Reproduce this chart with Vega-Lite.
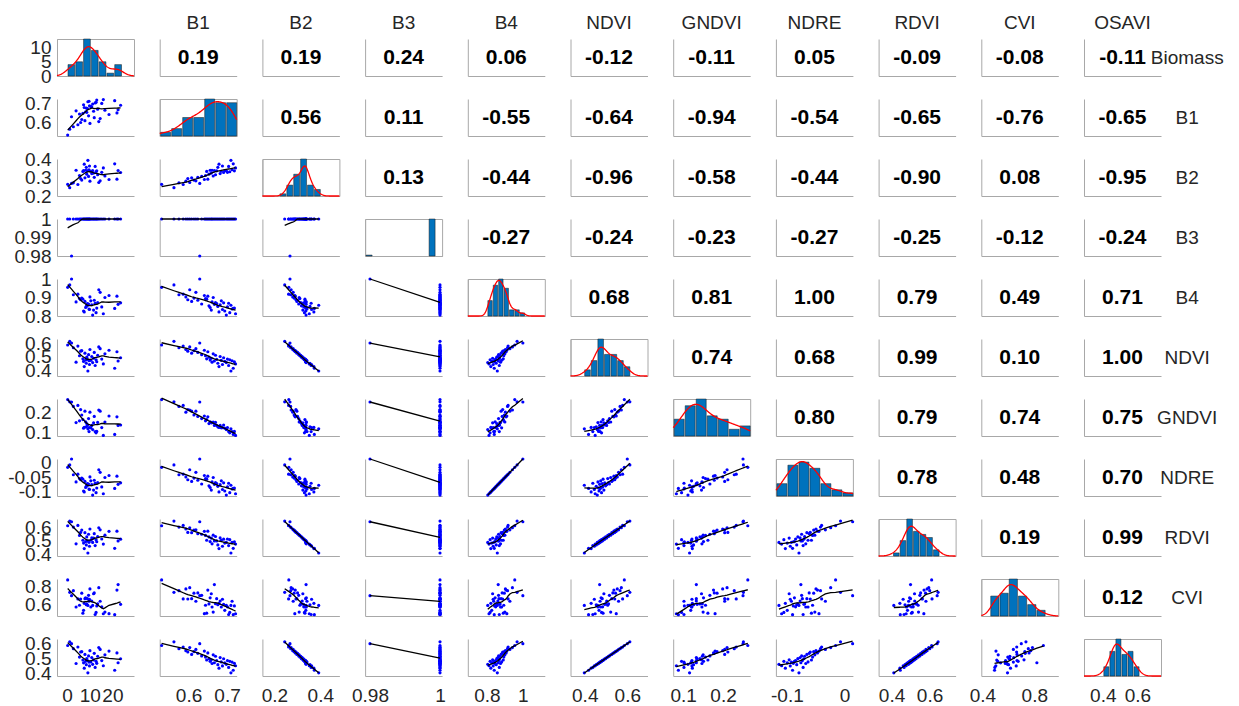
{
"$schema": "https://vega.github.io/schema/vega-lite/v6.json",
"padding": {"left": 7, "top": 14, "right": 5, "bottom": 5},
"background": "white",
"datasets": {"obs": [
{"Biomass":9.2,"B1":0.71,"B2":0.393,"B3":1,"B4":0.858,"NDVI":0.398,"GNDVI":0.116,"NDRE":-0.079,"RDVI":0.412,"CVI":0.594,"OSAVI":0.403},
{"Biomass":21,"B1":0.716,"B2":0.374,"B3":1,"B4":0.841,"NDVI":0.418,"GNDVI":0.088,"NDRE":-0.0901,"RDVI":0.446,"CVI":0.494,"OSAVI":0.42},
{"Biomass":7.6,"B1":0.679,"B2":0.372,"B3":1,"B4":0.822,"NDVI":0.43,"GNDVI":0.123,"NDRE":-0.1026,"RDVI":0.444,"CVI":0.617,"OSAVI":0.434},
{"Biomass":12.4,"B1":0.704,"B2":0.36,"B3":1,"B4":0.869,"NDVI":0.438,"GNDVI":0.102,"NDRE":-0.0718,"RDVI":0.466,"CVI":0.496,"OSAVI":0.439},
{"Biomass":9.9,"B1":0.688,"B2":0.362,"B3":1,"B4":0.835,"NDVI":0.445,"GNDVI":0.122,"NDRE":-0.0941,"RDVI":0.461,"CVI":0.661,"OSAVI":0.449},
{"Biomass":16,"B1":0.722,"B2":0.352,"B3":1,"B4":0.812,"NDVI":0.449,"GNDVI":0.083,"NDRE":-0.1091,"RDVI":0.477,"CVI":0.504,"OSAVI":0.45},
{"Biomass":8.5,"B1":0.676,"B2":0.355,"B3":1,"B4":0.852,"NDVI":0.454,"GNDVI":0.126,"NDRE":-0.0829,"RDVI":0.471,"CVI":0.602,"OSAVI":0.457},
{"Biomass":11.3,"B1":0.698,"B2":0.338,"B3":1,"B4":0.805,"NDVI":0.459,"GNDVI":0.112,"NDRE":-0.1137,"RDVI":0.489,"CVI":0.594,"OSAVI":0.459},
{"Biomass":4,"B1":0.661,"B2":0.339,"B3":1,"B4":0.876,"NDVI":0.462,"GNDVI":0.147,"NDRE":-0.0672,"RDVI":0.479,"CVI":0.577,"OSAVI":0.465},
{"Biomass":13.1,"B1":0.719,"B2":0.336,"B3":1,"B4":0.843,"NDVI":0.465,"GNDVI":0.103,"NDRE":-0.0888,"RDVI":0.494,"CVI":0.589,"OSAVI":0.466},
{"Biomass":7.3,"B1":0.694,"B2":0.337,"B3":1,"B4":0.827,"NDVI":0.467,"GNDVI":0.119,"NDRE":-0.0993,"RDVI":0.484,"CVI":0.541,"OSAVI":0.469},
{"Biomass":22.5,"B1":0.667,"B2":0.338,"B3":1,"B4":0.863,"NDVI":0.47,"GNDVI":0.133,"NDRE":-0.0757,"RDVI":0.5,"CVI":0.82,"OSAVI":0.47},
{"Biomass":9.7,"B1":0.713,"B2":0.342,"B3":1,"B4":0.838,"NDVI":0.472,"GNDVI":0.102,"NDRE":-0.0921,"RDVI":0.49,"CVI":0.639,"OSAVI":0.474},
{"Biomass":10.5,"B1":0.685,"B2":0.334,"B3":1,"B4":0.882,"NDVI":0.475,"GNDVI":0.121,"NDRE":-0.0633,"RDVI":0.505,"CVI":0.577,"OSAVI":0.475},
{"Biomass":8.2,"B1":0.656,"B2":0.339,"B3":1,"B4":0.846,"NDVI":0.477,"GNDVI":0.151,"NDRE":-0.0869,"RDVI":0.495,"CVI":0.676,"OSAVI":0.479},
{"Biomass":12.8,"B1":0.707,"B2":0.331,"B3":1,"B4":0.818,"NDVI":0.479,"GNDVI":0.096,"NDRE":-0.1052,"RDVI":0.509,"CVI":0.519,"OSAVI":0.479},
{"Biomass":9,"B1":0.673,"B2":0.336,"B3":1,"B4":0.867,"NDVI":0.482,"GNDVI":0.133,"NDRE":-0.0731,"RDVI":0.5,"CVI":0.667,"OSAVI":0.484},
{"Biomass":15.3,"B1":0.701,"B2":0.328,"B3":1,"B4":0.849,"NDVI":0.484,"GNDVI":0.122,"NDRE":-0.0849,"RDVI":0.514,"CVI":0.579,"OSAVI":0.484},
{"Biomass":7,"B1":0.647,"B2":0.333,"B3":1,"B4":0.891,"NDVI":0.486,"GNDVI":0.162,"NDRE":-0.0574,"RDVI":0.505,"CVI":0.511,"OSAVI":0.488},
{"Biomass":11.7,"B1":0.659,"B2":0.324,"B3":1,"B4":0.832,"NDVI":0.49,"GNDVI":0.146,"NDRE":-0.096,"RDVI":0.521,"CVI":0.721,"OSAVI":0.489},
{"Biomass":23.6,"B1":0.691,"B2":0.327,"B3":1,"B4":0.871,"NDVI":0.494,"GNDVI":0.135,"NDRE":-0.0705,"RDVI":0.513,"CVI":0.606,"OSAVI":0.496},
{"Biomass":8.7,"B1":0.653,"B2":0.318,"B3":1,"B4":0.855,"NDVI":0.498,"GNDVI":0.142,"NDRE":-0.081,"RDVI":0.529,"CVI":0.611,"OSAVI":0.497},
{"Biomass":10.9,"B1":0.682,"B2":0.321,"B3":1,"B4":0.861,"NDVI":0.503,"GNDVI":0.133,"NDRE":-0.077,"RDVI":0.522,"CVI":0.642,"OSAVI":0.504},
{"Biomass":5.5,"B1":0.644,"B2":0.311,"B3":1,"B4":0.894,"NDVI":0.508,"GNDVI":0.156,"NDRE":-0.0554,"RDVI":0.54,"CVI":0.596,"OSAVI":0.507},
{"Biomass":13.5,"B1":0.67,"B2":0.315,"B3":1,"B4":0.873,"NDVI":0.512,"GNDVI":0.148,"NDRE":-0.0692,"RDVI":0.532,"CVI":0.612,"OSAVI":0.513},
{"Biomass":9.5,"B1":0.634,"B2":0.306,"B3":1,"B4":0.865,"NDVI":0.516,"GNDVI":0.167,"NDRE":-0.0744,"RDVI":0.549,"CVI":0.703,"OSAVI":0.515},
{"Biomass":16.7,"B1":0.664,"B2":0.308,"B3":1,"B4":0.9,"NDVI":0.522,"GNDVI":0.15,"NDRE":-0.0515,"RDVI":0.542,"CVI":0.522,"OSAVI":0.522},
{"Biomass":7.9,"B1":0.608,"B2":0.298,"B3":1,"B4":0.879,"NDVI":0.527,"GNDVI":0.204,"NDRE":-0.0653,"RDVI":0.56,"CVI":0.667,"OSAVI":0.525},
{"Biomass":12,"B1":0.624,"B2":0.301,"B3":1,"B4":0.885,"NDVI":0.532,"GNDVI":0.178,"NDRE":-0.0613,"RDVI":0.553,"CVI":0.73,"OSAVI":0.532},
{"Biomass":22,"B1":0.65,"B2":0.291,"B3":1,"B4":0.907,"NDVI":0.537,"GNDVI":0.176,"NDRE":-0.0469,"RDVI":0.571,"CVI":0.76,"OSAVI":0.535},
{"Biomass":6,"B1":0.598,"B2":0.294,"B3":1,"B4":0.888,"NDVI":0.541,"GNDVI":0.212,"NDRE":-0.0594,"RDVI":0.562,"CVI":0.664,"OSAVI":0.541},
{"Biomass":6.5,"B1":0.614,"B2":0.286,"B3":1,"B4":0.897,"NDVI":0.545,"GNDVI":0.185,"NDRE":-0.0535,"RDVI":0.579,"CVI":0.727,"OSAVI":0.543},
{"Biomass":18.5,"B1":0.641,"B2":0.289,"B3":1,"B4":0.911,"NDVI":0.548,"GNDVI":0.18,"NDRE":-0.0443,"RDVI":0.57,"CVI":0.505,"OSAVI":0.547},
{"Biomass":10.1,"B1":0.593,"B2":0.28,"B3":1,"B4":0.903,"NDVI":0.553,"GNDVI":0.199,"NDRE":-0.0495,"RDVI":0.587,"CVI":0.773,"OSAVI":0.55},
{"Biomass":14.6,"B1":0.619,"B2":0.282,"B3":1,"B4":0.928,"NDVI":0.559,"GNDVI":0.204,"NDRE":-0.0332,"RDVI":0.581,"CVI":0.639,"OSAVI":0.558},
{"Biomass":2.8,"B1":0.575,"B2":0.271,"B3":1,"B4":0.915,"NDVI":0.566,"GNDVI":0.228,"NDRE":-0.0417,"RDVI":0.601,"CVI":0.754,"OSAVI":0.563},
{"Biomass":14,"B1":0.603,"B2":0.273,"B3":1,"B4":0.942,"NDVI":0.572,"GNDVI":0.21,"NDRE":-0.024,"RDVI":0.596,"CVI":0.786,"OSAVI":0.57},
{"Biomass":4.8,"B1":0.586,"B2":0.262,"B3":1,"B4":0.918,"NDVI":0.578,"GNDVI":0.233,"NDRE":-0.0397,"RDVI":0.613,"CVI":0.665,"OSAVI":0.574},
{"Biomass":0.3,"B1":0.53,"B2":0.263,"B3":1,"B4":0.955,"NDVI":0.586,"GNDVI":0.262,"NDRE":-0.0155,"RDVI":0.611,"CVI":0.87,"OSAVI":0.584},
{"Biomass":2,"B1":0.629,"B2":0.268,"B3":0.98,"B4":1,"NDVI":0.6,"GNDVI":0.25,"NDRE":0.014,"RDVI":0.64,"CVI":0.7,"OSAVI":0.596},
{"Biomass":1.2,"B1":0.562,"B2":0.245,"B3":1,"B4":0.968,"NDVI":0.612,"GNDVI":0.251,"NDRE":-0.007,"RDVI":0.645,"CVI":0.736,"OSAVI":0.608}
]},
"data": {"name": "obs"},
"columns": 12,
"spacing": {"row": 23, "column": 25.7},
"bounds": "flush",
"concat": [
{"view":{"stroke":"#a8a8a8"},"layer":[{"mark":"bar","encoding":{"x":{"field":"Biomass","type":"quantitative","title":null,"bin":{"extent":[0,24],"step":3.428571,"nice":false},"scale":{"domain":[-4.4,29.5]}},"y":{"aggregate":"count","type":"quantitative","title":null,"scale":{"domain":[0,13]},"axis":{"labels":true,"values":[0,5,10],"format":"~r"}}}},{"transform":[{"density":"Biomass","bandwidth":2.5,"extent":[-4.4,29.5]}],"mark":{"type":"line","color":"#ff0000"},"encoding":{"x":{"field":"value","type":"quantitative","scale":{"domain":[-4.4,29.5]},"axis":null},"y":{"field":"density","type":"quantitative","scale":{"domain":[0,0.0925]},"axis":null}}}],"resolve":{"scale":{"x":"independent","y":"independent"}}},
{"title":"B1","data":{"values":[{"r":"0.19"}]},"mark":"text","encoding":{"x":{"datum":0.5,"type":"quantitative","scale":{"domain":[0,1]}},"y":{"datum":0.5,"type":"quantitative","scale":{"domain":[0,1]}},"text":{"field":"r"}}},
{"title":"B2","data":{"values":[{"r":"0.19"}]},"mark":"text","encoding":{"x":{"datum":0.5,"type":"quantitative","scale":{"domain":[0,1]}},"y":{"datum":0.5,"type":"quantitative","scale":{"domain":[0,1]}},"text":{"field":"r"}}},
{"title":"B3","data":{"values":[{"r":"0.24"}]},"mark":"text","encoding":{"x":{"datum":0.5,"type":"quantitative","scale":{"domain":[0,1]}},"y":{"datum":0.5,"type":"quantitative","scale":{"domain":[0,1]}},"text":{"field":"r"}}},
{"title":"B4","data":{"values":[{"r":"0.06"}]},"mark":"text","encoding":{"x":{"datum":0.5,"type":"quantitative","scale":{"domain":[0,1]}},"y":{"datum":0.5,"type":"quantitative","scale":{"domain":[0,1]}},"text":{"field":"r"}}},
{"title":"NDVI","data":{"values":[{"r":"-0.12"}]},"mark":"text","encoding":{"x":{"datum":0.5,"type":"quantitative","scale":{"domain":[0,1]}},"y":{"datum":0.5,"type":"quantitative","scale":{"domain":[0,1]}},"text":{"field":"r"}}},
{"title":"GNDVI","data":{"values":[{"r":"-0.11"}]},"mark":"text","encoding":{"x":{"datum":0.5,"type":"quantitative","scale":{"domain":[0,1]}},"y":{"datum":0.5,"type":"quantitative","scale":{"domain":[0,1]}},"text":{"field":"r"}}},
{"title":"NDRE","data":{"values":[{"r":"0.05"}]},"mark":"text","encoding":{"x":{"datum":0.5,"type":"quantitative","scale":{"domain":[0,1]}},"y":{"datum":0.5,"type":"quantitative","scale":{"domain":[0,1]}},"text":{"field":"r"}}},
{"title":"RDVI","data":{"values":[{"r":"-0.09"}]},"mark":"text","encoding":{"x":{"datum":0.5,"type":"quantitative","scale":{"domain":[0,1]}},"y":{"datum":0.5,"type":"quantitative","scale":{"domain":[0,1]}},"text":{"field":"r"}}},
{"title":"CVI","data":{"values":[{"r":"-0.08"}]},"mark":"text","encoding":{"x":{"datum":0.5,"type":"quantitative","scale":{"domain":[0,1]}},"y":{"datum":0.5,"type":"quantitative","scale":{"domain":[0,1]}},"text":{"field":"r"}}},
{"title":"OSAVI","data":{"values":[{"r":"-0.11"}]},"mark":"text","encoding":{"x":{"datum":0.5,"type":"quantitative","scale":{"domain":[0,1]}},"y":{"datum":0.5,"type":"quantitative","scale":{"domain":[0,1]}},"text":{"field":"r"}}},
{"width":1,"height":37,"data":{"values":[{"t":"Biomass"}]},"mark":{"type":"text","fontWeight":"normal","fontSize":19,"color":"#262626"},"encoding":{"text":{"field":"t"}}},

{"layer":[{"mark":"point"},{"transform":[{"loess":"B1","on":"Biomass","bandwidth":0.6}],"mark":"line"}],"encoding":{"x":{"field":"Biomass","type":"quantitative","title":null,"scale":{"domain":[-4.4,29.5]}},"y":{"field":"B1","type":"quantitative","title":null,"scale":{"domain":[0.525,0.725]},"axis":{"labels":true,"values":[0.6,0.7],"format":"~r"}}}},
{"view":{"stroke":"#a8a8a8"},"layer":[{"mark":"bar","encoding":{"x":{"field":"B1","type":"quantitative","title":null,"bin":{"extent":[0.525,0.725],"step":0.0285714,"nice":false},"scale":{"domain":[0.525,0.725]}},"y":{"aggregate":"count","type":"quantitative","title":null,"scale":{"domain":[0,10]}}}},{"transform":[{"density":"B1","bandwidth":0.02,"extent":[0.525,0.725]}],"mark":{"type":"line","color":"#ff0000"},"encoding":{"x":{"field":"value","type":"quantitative","scale":{"domain":[0.525,0.725]},"axis":null},"y":{"field":"density","type":"quantitative","scale":{"domain":[0,8.54]},"axis":null}}}],"resolve":{"scale":{"x":"independent","y":"independent"}}},
{"data":{"values":[{"r":"0.56"}]},"mark":"text","encoding":{"x":{"datum":0.5,"type":"quantitative","scale":{"domain":[0,1]}},"y":{"datum":0.5,"type":"quantitative","scale":{"domain":[0,1]}},"text":{"field":"r"}}},
{"data":{"values":[{"r":"0.11"}]},"mark":"text","encoding":{"x":{"datum":0.5,"type":"quantitative","scale":{"domain":[0,1]}},"y":{"datum":0.5,"type":"quantitative","scale":{"domain":[0,1]}},"text":{"field":"r"}}},
{"data":{"values":[{"r":"-0.55"}]},"mark":"text","encoding":{"x":{"datum":0.5,"type":"quantitative","scale":{"domain":[0,1]}},"y":{"datum":0.5,"type":"quantitative","scale":{"domain":[0,1]}},"text":{"field":"r"}}},
{"data":{"values":[{"r":"-0.64"}]},"mark":"text","encoding":{"x":{"datum":0.5,"type":"quantitative","scale":{"domain":[0,1]}},"y":{"datum":0.5,"type":"quantitative","scale":{"domain":[0,1]}},"text":{"field":"r"}}},
{"data":{"values":[{"r":"-0.94"}]},"mark":"text","encoding":{"x":{"datum":0.5,"type":"quantitative","scale":{"domain":[0,1]}},"y":{"datum":0.5,"type":"quantitative","scale":{"domain":[0,1]}},"text":{"field":"r"}}},
{"data":{"values":[{"r":"-0.54"}]},"mark":"text","encoding":{"x":{"datum":0.5,"type":"quantitative","scale":{"domain":[0,1]}},"y":{"datum":0.5,"type":"quantitative","scale":{"domain":[0,1]}},"text":{"field":"r"}}},
{"data":{"values":[{"r":"-0.65"}]},"mark":"text","encoding":{"x":{"datum":0.5,"type":"quantitative","scale":{"domain":[0,1]}},"y":{"datum":0.5,"type":"quantitative","scale":{"domain":[0,1]}},"text":{"field":"r"}}},
{"data":{"values":[{"r":"-0.76"}]},"mark":"text","encoding":{"x":{"datum":0.5,"type":"quantitative","scale":{"domain":[0,1]}},"y":{"datum":0.5,"type":"quantitative","scale":{"domain":[0,1]}},"text":{"field":"r"}}},
{"data":{"values":[{"r":"-0.65"}]},"mark":"text","encoding":{"x":{"datum":0.5,"type":"quantitative","scale":{"domain":[0,1]}},"y":{"datum":0.5,"type":"quantitative","scale":{"domain":[0,1]}},"text":{"field":"r"}}},
{"width":1,"height":37,"data":{"values":[{"t":"B1"}]},"mark":{"type":"text","fontWeight":"normal","fontSize":19,"color":"#262626"},"encoding":{"text":{"field":"t"}}},

{"layer":[{"mark":"point"},{"transform":[{"loess":"B2","on":"Biomass","bandwidth":0.6}],"mark":"line"}],"encoding":{"x":{"field":"Biomass","type":"quantitative","title":null,"scale":{"domain":[-4.4,29.5]}},"y":{"field":"B2","type":"quantitative","title":null,"scale":{"domain":[0.2,0.4]},"axis":{"labels":true,"values":[0.2,0.3,0.4],"format":"~r"}}}},
{"layer":[{"mark":"point"},{"transform":[{"loess":"B2","on":"B1","bandwidth":0.6}],"mark":"line"}],"encoding":{"x":{"field":"B1","type":"quantitative","title":null,"scale":{"domain":[0.525,0.725]}},"y":{"field":"B2","type":"quantitative","title":null,"scale":{"domain":[0.2,0.4]}}}},
{"view":{"stroke":"#a8a8a8"},"layer":[{"mark":"bar","encoding":{"x":{"field":"B2","type":"quantitative","title":null,"bin":{"extent":[0.22,0.4],"step":0.03,"nice":false},"scale":{"domain":[0.148,0.483]}},"y":{"aggregate":"count","type":"quantitative","title":null,"scale":{"domain":[0,17]}}}},{"transform":[{"density":"B2","bandwidth":0.015,"extent":[0.148,0.483]}],"mark":{"type":"line","color":"#ff0000"},"encoding":{"x":{"field":"value","type":"quantitative","scale":{"domain":[0.148,0.483]},"axis":null},"y":{"field":"density","type":"quantitative","scale":{"domain":[0,13.8]},"axis":null}}}],"resolve":{"scale":{"x":"independent","y":"independent"}}},
{"data":{"values":[{"r":"0.13"}]},"mark":"text","encoding":{"x":{"datum":0.5,"type":"quantitative","scale":{"domain":[0,1]}},"y":{"datum":0.5,"type":"quantitative","scale":{"domain":[0,1]}},"text":{"field":"r"}}},
{"data":{"values":[{"r":"-0.44"}]},"mark":"text","encoding":{"x":{"datum":0.5,"type":"quantitative","scale":{"domain":[0,1]}},"y":{"datum":0.5,"type":"quantitative","scale":{"domain":[0,1]}},"text":{"field":"r"}}},
{"data":{"values":[{"r":"-0.96"}]},"mark":"text","encoding":{"x":{"datum":0.5,"type":"quantitative","scale":{"domain":[0,1]}},"y":{"datum":0.5,"type":"quantitative","scale":{"domain":[0,1]}},"text":{"field":"r"}}},
{"data":{"values":[{"r":"-0.58"}]},"mark":"text","encoding":{"x":{"datum":0.5,"type":"quantitative","scale":{"domain":[0,1]}},"y":{"datum":0.5,"type":"quantitative","scale":{"domain":[0,1]}},"text":{"field":"r"}}},
{"data":{"values":[{"r":"-0.44"}]},"mark":"text","encoding":{"x":{"datum":0.5,"type":"quantitative","scale":{"domain":[0,1]}},"y":{"datum":0.5,"type":"quantitative","scale":{"domain":[0,1]}},"text":{"field":"r"}}},
{"data":{"values":[{"r":"-0.90"}]},"mark":"text","encoding":{"x":{"datum":0.5,"type":"quantitative","scale":{"domain":[0,1]}},"y":{"datum":0.5,"type":"quantitative","scale":{"domain":[0,1]}},"text":{"field":"r"}}},
{"data":{"values":[{"r":"0.08"}]},"mark":"text","encoding":{"x":{"datum":0.5,"type":"quantitative","scale":{"domain":[0,1]}},"y":{"datum":0.5,"type":"quantitative","scale":{"domain":[0,1]}},"text":{"field":"r"}}},
{"data":{"values":[{"r":"-0.95"}]},"mark":"text","encoding":{"x":{"datum":0.5,"type":"quantitative","scale":{"domain":[0,1]}},"y":{"datum":0.5,"type":"quantitative","scale":{"domain":[0,1]}},"text":{"field":"r"}}},
{"width":1,"height":37,"data":{"values":[{"t":"B2"}]},"mark":{"type":"text","fontWeight":"normal","fontSize":19,"color":"#262626"},"encoding":{"text":{"field":"t"}}},

{"layer":[{"mark":"point"},{"transform":[{"loess":"B3","on":"Biomass","bandwidth":0.6}],"mark":"line"}],"encoding":{"x":{"field":"Biomass","type":"quantitative","title":null,"scale":{"domain":[-4.4,29.5]}},"y":{"field":"B3","type":"quantitative","title":null,"scale":{"domain":[0.98,1]},"axis":{"labels":true,"values":[0.98,0.99,1],"format":"~r"}}}},
{"layer":[{"mark":"point"},{"transform":[{"loess":"B3","on":"B1","bandwidth":0.6}],"mark":"line"}],"encoding":{"x":{"field":"B1","type":"quantitative","title":null,"scale":{"domain":[0.525,0.725]}},"y":{"field":"B3","type":"quantitative","title":null,"scale":{"domain":[0.98,1]}}}},
{"layer":[{"mark":"point"},{"transform":[{"loess":"B3","on":"B2","bandwidth":0.6}],"mark":"line"}],"encoding":{"x":{"field":"B2","type":"quantitative","title":null,"scale":{"domain":[0.148,0.483]}},"y":{"field":"B3","type":"quantitative","title":null,"scale":{"domain":[0.98,1]}}}},
{"view":{"stroke":"#a8a8a8"},"mark":"bar","encoding":{"x":{"field":"B3","type":"quantitative","title":null,"bin":{"extent":[0.9786,1.0006],"step":0.002,"nice":false},"scale":{"domain":[0.9786,1.0006]}},"y":{"aggregate":"count","type":"quantitative","title":null,"scale":{"domain":[0,40]}}}},
{"data":{"values":[{"r":"-0.27"}]},"mark":"text","encoding":{"x":{"datum":0.5,"type":"quantitative","scale":{"domain":[0,1]}},"y":{"datum":0.5,"type":"quantitative","scale":{"domain":[0,1]}},"text":{"field":"r"}}},
{"data":{"values":[{"r":"-0.24"}]},"mark":"text","encoding":{"x":{"datum":0.5,"type":"quantitative","scale":{"domain":[0,1]}},"y":{"datum":0.5,"type":"quantitative","scale":{"domain":[0,1]}},"text":{"field":"r"}}},
{"data":{"values":[{"r":"-0.23"}]},"mark":"text","encoding":{"x":{"datum":0.5,"type":"quantitative","scale":{"domain":[0,1]}},"y":{"datum":0.5,"type":"quantitative","scale":{"domain":[0,1]}},"text":{"field":"r"}}},
{"data":{"values":[{"r":"-0.27"}]},"mark":"text","encoding":{"x":{"datum":0.5,"type":"quantitative","scale":{"domain":[0,1]}},"y":{"datum":0.5,"type":"quantitative","scale":{"domain":[0,1]}},"text":{"field":"r"}}},
{"data":{"values":[{"r":"-0.25"}]},"mark":"text","encoding":{"x":{"datum":0.5,"type":"quantitative","scale":{"domain":[0,1]}},"y":{"datum":0.5,"type":"quantitative","scale":{"domain":[0,1]}},"text":{"field":"r"}}},
{"data":{"values":[{"r":"-0.12"}]},"mark":"text","encoding":{"x":{"datum":0.5,"type":"quantitative","scale":{"domain":[0,1]}},"y":{"datum":0.5,"type":"quantitative","scale":{"domain":[0,1]}},"text":{"field":"r"}}},
{"data":{"values":[{"r":"-0.24"}]},"mark":"text","encoding":{"x":{"datum":0.5,"type":"quantitative","scale":{"domain":[0,1]}},"y":{"datum":0.5,"type":"quantitative","scale":{"domain":[0,1]}},"text":{"field":"r"}}},
{"width":1,"height":37,"data":{"values":[{"t":"B3"}]},"mark":{"type":"text","fontWeight":"normal","fontSize":19,"color":"#262626"},"encoding":{"text":{"field":"t"}}},

{"layer":[{"mark":"point"},{"transform":[{"loess":"B4","on":"Biomass","bandwidth":0.6}],"mark":"line"}],"encoding":{"x":{"field":"Biomass","type":"quantitative","title":null,"scale":{"domain":[-4.4,29.5]}},"y":{"field":"B4","type":"quantitative","title":null,"scale":{"domain":[0.8,1]},"axis":{"labels":true,"values":[0.8,0.9,1],"format":"~r"}}}},
{"layer":[{"mark":"point"},{"transform":[{"loess":"B4","on":"B1","bandwidth":0.6}],"mark":"line"}],"encoding":{"x":{"field":"B1","type":"quantitative","title":null,"scale":{"domain":[0.525,0.725]}},"y":{"field":"B4","type":"quantitative","title":null,"scale":{"domain":[0.8,1]}}}},
{"layer":[{"mark":"point"},{"transform":[{"loess":"B4","on":"B2","bandwidth":0.6}],"mark":"line"}],"encoding":{"x":{"field":"B2","type":"quantitative","title":null,"scale":{"domain":[0.148,0.483]}},"y":{"field":"B4","type":"quantitative","title":null,"scale":{"domain":[0.8,1]}}}},
{"layer":[{"mark":"point"},{"transform":[{"regression":"B4","on":"B3"}],"mark":"line"}],"encoding":{"x":{"field":"B3","type":"quantitative","title":null,"scale":{"domain":[0.9786,1.0006]}},"y":{"field":"B4","type":"quantitative","title":null,"scale":{"domain":[0.8,1]}}}},
{"view":{"stroke":"#a8a8a8"},"layer":[{"mark":"bar","encoding":{"x":{"field":"B4","type":"quantitative","title":null,"bin":{"extent":[0.8,1.01],"step":0.03,"nice":false},"scale":{"domain":[0.694,1.122]}},"y":{"aggregate":"count","type":"quantitative","title":null,"scale":{"domain":[0,12]}}}},{"transform":[{"density":"B4","bandwidth":0.015,"extent":[0.694,1.122]}],"mark":{"type":"line","color":"#ff0000"},"encoding":{"x":{"field":"value","type":"quantitative","scale":{"domain":[0.694,1.122]},"axis":null},"y":{"field":"density","type":"quantitative","scale":{"domain":[0,9.76]},"axis":null}}}],"resolve":{"scale":{"x":"independent","y":"independent"}}},
{"data":{"values":[{"r":"0.68"}]},"mark":"text","encoding":{"x":{"datum":0.5,"type":"quantitative","scale":{"domain":[0,1]}},"y":{"datum":0.5,"type":"quantitative","scale":{"domain":[0,1]}},"text":{"field":"r"}}},
{"data":{"values":[{"r":"0.81"}]},"mark":"text","encoding":{"x":{"datum":0.5,"type":"quantitative","scale":{"domain":[0,1]}},"y":{"datum":0.5,"type":"quantitative","scale":{"domain":[0,1]}},"text":{"field":"r"}}},
{"data":{"values":[{"r":"1.00"}]},"mark":"text","encoding":{"x":{"datum":0.5,"type":"quantitative","scale":{"domain":[0,1]}},"y":{"datum":0.5,"type":"quantitative","scale":{"domain":[0,1]}},"text":{"field":"r"}}},
{"data":{"values":[{"r":"0.79"}]},"mark":"text","encoding":{"x":{"datum":0.5,"type":"quantitative","scale":{"domain":[0,1]}},"y":{"datum":0.5,"type":"quantitative","scale":{"domain":[0,1]}},"text":{"field":"r"}}},
{"data":{"values":[{"r":"0.49"}]},"mark":"text","encoding":{"x":{"datum":0.5,"type":"quantitative","scale":{"domain":[0,1]}},"y":{"datum":0.5,"type":"quantitative","scale":{"domain":[0,1]}},"text":{"field":"r"}}},
{"data":{"values":[{"r":"0.71"}]},"mark":"text","encoding":{"x":{"datum":0.5,"type":"quantitative","scale":{"domain":[0,1]}},"y":{"datum":0.5,"type":"quantitative","scale":{"domain":[0,1]}},"text":{"field":"r"}}},
{"width":1,"height":37,"data":{"values":[{"t":"B4"}]},"mark":{"type":"text","fontWeight":"normal","fontSize":19,"color":"#262626"},"encoding":{"text":{"field":"t"}}},

{"layer":[{"mark":"point"},{"transform":[{"loess":"NDVI","on":"Biomass","bandwidth":0.6}],"mark":"line"}],"encoding":{"x":{"field":"Biomass","type":"quantitative","title":null,"scale":{"domain":[-4.4,29.5]}},"y":{"field":"NDVI","type":"quantitative","title":null,"scale":{"domain":[0.362,0.629]},"axis":{"labels":true,"values":[0.4,0.5,0.6],"format":"~r"}}}},
{"layer":[{"mark":"point"},{"transform":[{"loess":"NDVI","on":"B1","bandwidth":0.6}],"mark":"line"}],"encoding":{"x":{"field":"B1","type":"quantitative","title":null,"scale":{"domain":[0.525,0.725]}},"y":{"field":"NDVI","type":"quantitative","title":null,"scale":{"domain":[0.362,0.629]}}}},
{"layer":[{"mark":"point"},{"transform":[{"loess":"NDVI","on":"B2","bandwidth":0.6}],"mark":"line"}],"encoding":{"x":{"field":"B2","type":"quantitative","title":null,"scale":{"domain":[0.148,0.483]}},"y":{"field":"NDVI","type":"quantitative","title":null,"scale":{"domain":[0.362,0.629]}}}},
{"layer":[{"mark":"point"},{"transform":[{"regression":"NDVI","on":"B3"}],"mark":"line"}],"encoding":{"x":{"field":"B3","type":"quantitative","title":null,"scale":{"domain":[0.9786,1.0006]}},"y":{"field":"NDVI","type":"quantitative","title":null,"scale":{"domain":[0.362,0.629]}}}},
{"layer":[{"mark":"point"},{"transform":[{"loess":"NDVI","on":"B4","bandwidth":0.6}],"mark":"line"}],"encoding":{"x":{"field":"B4","type":"quantitative","title":null,"scale":{"domain":[0.694,1.122]}},"y":{"field":"NDVI","type":"quantitative","title":null,"scale":{"domain":[0.362,0.629]}}}},
{"view":{"stroke":"#a8a8a8"},"layer":[{"mark":"bar","encoding":{"x":{"field":"NDVI","type":"quantitative","title":null,"bin":{"extent":[0.395,0.612],"step":0.031,"nice":false},"scale":{"domain":[0.333,0.695]}},"y":{"aggregate":"count","type":"quantitative","title":null,"scale":{"domain":[0,12]}}}},{"transform":[{"density":"NDVI","bandwidth":0.022,"extent":[0.333,0.695]}],"mark":{"type":"line","color":"#ff0000"},"encoding":{"x":{"field":"value","type":"quantitative","scale":{"domain":[0.333,0.695]},"axis":null},"y":{"field":"density","type":"quantitative","scale":{"domain":[0,9.44]},"axis":null}}}],"resolve":{"scale":{"x":"independent","y":"independent"}}},
{"data":{"values":[{"r":"0.74"}]},"mark":"text","encoding":{"x":{"datum":0.5,"type":"quantitative","scale":{"domain":[0,1]}},"y":{"datum":0.5,"type":"quantitative","scale":{"domain":[0,1]}},"text":{"field":"r"}}},
{"data":{"values":[{"r":"0.68"}]},"mark":"text","encoding":{"x":{"datum":0.5,"type":"quantitative","scale":{"domain":[0,1]}},"y":{"datum":0.5,"type":"quantitative","scale":{"domain":[0,1]}},"text":{"field":"r"}}},
{"data":{"values":[{"r":"0.99"}]},"mark":"text","encoding":{"x":{"datum":0.5,"type":"quantitative","scale":{"domain":[0,1]}},"y":{"datum":0.5,"type":"quantitative","scale":{"domain":[0,1]}},"text":{"field":"r"}}},
{"data":{"values":[{"r":"0.10"}]},"mark":"text","encoding":{"x":{"datum":0.5,"type":"quantitative","scale":{"domain":[0,1]}},"y":{"datum":0.5,"type":"quantitative","scale":{"domain":[0,1]}},"text":{"field":"r"}}},
{"data":{"values":[{"r":"1.00"}]},"mark":"text","encoding":{"x":{"datum":0.5,"type":"quantitative","scale":{"domain":[0,1]}},"y":{"datum":0.5,"type":"quantitative","scale":{"domain":[0,1]}},"text":{"field":"r"}}},
{"width":1,"height":37,"data":{"values":[{"t":"NDVI"}]},"mark":{"type":"text","fontWeight":"normal","fontSize":19,"color":"#262626"},"encoding":{"text":{"field":"t"}}},

{"layer":[{"mark":"point"},{"transform":[{"loess":"GNDVI","on":"Biomass","bandwidth":0.6}],"mark":"line"}],"encoding":{"x":{"field":"Biomass","type":"quantitative","title":null,"scale":{"domain":[-4.4,29.5]}},"y":{"field":"GNDVI","type":"quantitative","title":null,"scale":{"domain":[0.08,0.265]},"axis":{"labels":true,"values":[0.1,0.2],"format":"~r"}}}},
{"layer":[{"mark":"point"},{"transform":[{"loess":"GNDVI","on":"B1","bandwidth":0.6}],"mark":"line"}],"encoding":{"x":{"field":"B1","type":"quantitative","title":null,"scale":{"domain":[0.525,0.725]}},"y":{"field":"GNDVI","type":"quantitative","title":null,"scale":{"domain":[0.08,0.265]}}}},
{"layer":[{"mark":"point"},{"transform":[{"loess":"GNDVI","on":"B2","bandwidth":0.6}],"mark":"line"}],"encoding":{"x":{"field":"B2","type":"quantitative","title":null,"scale":{"domain":[0.148,0.483]}},"y":{"field":"GNDVI","type":"quantitative","title":null,"scale":{"domain":[0.08,0.265]}}}},
{"layer":[{"mark":"point"},{"transform":[{"regression":"GNDVI","on":"B3"}],"mark":"line"}],"encoding":{"x":{"field":"B3","type":"quantitative","title":null,"scale":{"domain":[0.9786,1.0006]}},"y":{"field":"GNDVI","type":"quantitative","title":null,"scale":{"domain":[0.08,0.265]}}}},
{"layer":[{"mark":"point"},{"transform":[{"loess":"GNDVI","on":"B4","bandwidth":0.6}],"mark":"line"}],"encoding":{"x":{"field":"B4","type":"quantitative","title":null,"scale":{"domain":[0.694,1.122]}},"y":{"field":"GNDVI","type":"quantitative","title":null,"scale":{"domain":[0.08,0.265]}}}},
{"layer":[{"mark":"point"},{"transform":[{"loess":"GNDVI","on":"NDVI","bandwidth":0.6}],"mark":"line"}],"encoding":{"x":{"field":"NDVI","type":"quantitative","title":null,"scale":{"domain":[0.333,0.695]}},"y":{"field":"GNDVI","type":"quantitative","title":null,"scale":{"domain":[0.08,0.265]}}}},
{"view":{"stroke":"#a8a8a8"},"layer":[{"mark":"bar","encoding":{"x":{"field":"GNDVI","type":"quantitative","title":null,"bin":{"extent":[0.075,0.268],"step":0.027572,"nice":false},"scale":{"domain":[0.075,0.268]}},"y":{"aggregate":"count","type":"quantitative","title":null,"scale":{"domain":[0,11]}}}},{"transform":[{"density":"GNDVI","bandwidth":0.022,"extent":[0.075,0.268]}],"mark":{"type":"line","color":"#ff0000"},"encoding":{"x":{"field":"value","type":"quantitative","scale":{"domain":[0.075,0.268]},"axis":null},"y":{"field":"density","type":"quantitative","scale":{"domain":[0,9.73]},"axis":null}}}],"resolve":{"scale":{"x":"independent","y":"independent"}}},
{"data":{"values":[{"r":"0.80"}]},"mark":"text","encoding":{"x":{"datum":0.5,"type":"quantitative","scale":{"domain":[0,1]}},"y":{"datum":0.5,"type":"quantitative","scale":{"domain":[0,1]}},"text":{"field":"r"}}},
{"data":{"values":[{"r":"0.79"}]},"mark":"text","encoding":{"x":{"datum":0.5,"type":"quantitative","scale":{"domain":[0,1]}},"y":{"datum":0.5,"type":"quantitative","scale":{"domain":[0,1]}},"text":{"field":"r"}}},
{"data":{"values":[{"r":"0.74"}]},"mark":"text","encoding":{"x":{"datum":0.5,"type":"quantitative","scale":{"domain":[0,1]}},"y":{"datum":0.5,"type":"quantitative","scale":{"domain":[0,1]}},"text":{"field":"r"}}},
{"data":{"values":[{"r":"0.75"}]},"mark":"text","encoding":{"x":{"datum":0.5,"type":"quantitative","scale":{"domain":[0,1]}},"y":{"datum":0.5,"type":"quantitative","scale":{"domain":[0,1]}},"text":{"field":"r"}}},
{"width":1,"height":37,"data":{"values":[{"t":"GNDVI"}]},"mark":{"type":"text","fontWeight":"normal","fontSize":19,"color":"#262626"},"encoding":{"text":{"field":"t"}}},

{"layer":[{"mark":"point"},{"transform":[{"loess":"NDRE","on":"Biomass","bandwidth":0.6}],"mark":"line"}],"encoding":{"x":{"field":"Biomass","type":"quantitative","title":null,"scale":{"domain":[-4.4,29.5]}},"y":{"field":"NDRE","type":"quantitative","title":null,"scale":{"domain":[-0.117,0.014]},"axis":{"labels":true,"values":[-0.1,-0.05,0],"format":"~r"}}}},
{"layer":[{"mark":"point"},{"transform":[{"loess":"NDRE","on":"B1","bandwidth":0.6}],"mark":"line"}],"encoding":{"x":{"field":"B1","type":"quantitative","title":null,"scale":{"domain":[0.525,0.725]}},"y":{"field":"NDRE","type":"quantitative","title":null,"scale":{"domain":[-0.117,0.014]}}}},
{"layer":[{"mark":"point"},{"transform":[{"loess":"NDRE","on":"B2","bandwidth":0.6}],"mark":"line"}],"encoding":{"x":{"field":"B2","type":"quantitative","title":null,"scale":{"domain":[0.148,0.483]}},"y":{"field":"NDRE","type":"quantitative","title":null,"scale":{"domain":[-0.117,0.014]}}}},
{"layer":[{"mark":"point"},{"transform":[{"regression":"NDRE","on":"B3"}],"mark":"line"}],"encoding":{"x":{"field":"B3","type":"quantitative","title":null,"scale":{"domain":[0.9786,1.0006]}},"y":{"field":"NDRE","type":"quantitative","title":null,"scale":{"domain":[-0.117,0.014]}}}},
{"layer":[{"mark":"point"},{"transform":[{"loess":"NDRE","on":"B4","bandwidth":0.6}],"mark":"line"}],"encoding":{"x":{"field":"B4","type":"quantitative","title":null,"scale":{"domain":[0.694,1.122]}},"y":{"field":"NDRE","type":"quantitative","title":null,"scale":{"domain":[-0.117,0.014]}}}},
{"layer":[{"mark":"point"},{"transform":[{"loess":"NDRE","on":"NDVI","bandwidth":0.6}],"mark":"line"}],"encoding":{"x":{"field":"NDVI","type":"quantitative","title":null,"scale":{"domain":[0.333,0.695]}},"y":{"field":"NDRE","type":"quantitative","title":null,"scale":{"domain":[-0.117,0.014]}}}},
{"layer":[{"mark":"point"},{"transform":[{"loess":"NDRE","on":"GNDVI","bandwidth":0.6}],"mark":"line"}],"encoding":{"x":{"field":"GNDVI","type":"quantitative","title":null,"scale":{"domain":[0.075,0.268]}},"y":{"field":"NDRE","type":"quantitative","title":null,"scale":{"domain":[-0.117,0.014]}}}},
{"view":{"stroke":"#a8a8a8"},"layer":[{"mark":"bar","encoding":{"x":{"field":"NDRE","type":"quantitative","title":null,"bin":{"extent":[-0.119,0.0145],"step":0.01907,"nice":false},"scale":{"domain":[-0.119,0.0145]}},"y":{"aggregate":"count","type":"quantitative","title":null,"scale":{"domain":[0,12]}}}},{"transform":[{"density":"NDRE","bandwidth":0.01,"extent":[-0.119,0.0145]}],"mark":{"type":"line","color":"#ff0000"},"encoding":{"x":{"field":"value","type":"quantitative","scale":{"domain":[-0.119,0.0145]},"axis":null},"y":{"field":"density","type":"quantitative","scale":{"domain":[0,15.4]},"axis":null}}}],"resolve":{"scale":{"x":"independent","y":"independent"}}},
{"data":{"values":[{"r":"0.78"}]},"mark":"text","encoding":{"x":{"datum":0.5,"type":"quantitative","scale":{"domain":[0,1]}},"y":{"datum":0.5,"type":"quantitative","scale":{"domain":[0,1]}},"text":{"field":"r"}}},
{"data":{"values":[{"r":"0.48"}]},"mark":"text","encoding":{"x":{"datum":0.5,"type":"quantitative","scale":{"domain":[0,1]}},"y":{"datum":0.5,"type":"quantitative","scale":{"domain":[0,1]}},"text":{"field":"r"}}},
{"data":{"values":[{"r":"0.70"}]},"mark":"text","encoding":{"x":{"datum":0.5,"type":"quantitative","scale":{"domain":[0,1]}},"y":{"datum":0.5,"type":"quantitative","scale":{"domain":[0,1]}},"text":{"field":"r"}}},
{"width":1,"height":37,"data":{"values":[{"t":"NDRE"}]},"mark":{"type":"text","fontWeight":"normal","fontSize":19,"color":"#262626"},"encoding":{"text":{"field":"t"}}},

{"layer":[{"mark":"point"},{"transform":[{"loess":"RDVI","on":"Biomass","bandwidth":0.6}],"mark":"line"}],"encoding":{"x":{"field":"Biomass","type":"quantitative","title":null,"scale":{"domain":[-4.4,29.5]}},"y":{"field":"RDVI","type":"quantitative","title":null,"scale":{"domain":[0.39,0.66]},"axis":{"labels":true,"values":[0.4,0.5,0.6],"format":"~r"}}}},
{"layer":[{"mark":"point"},{"transform":[{"loess":"RDVI","on":"B1","bandwidth":0.6}],"mark":"line"}],"encoding":{"x":{"field":"B1","type":"quantitative","title":null,"scale":{"domain":[0.525,0.725]}},"y":{"field":"RDVI","type":"quantitative","title":null,"scale":{"domain":[0.39,0.66]}}}},
{"layer":[{"mark":"point"},{"transform":[{"loess":"RDVI","on":"B2","bandwidth":0.6}],"mark":"line"}],"encoding":{"x":{"field":"B2","type":"quantitative","title":null,"scale":{"domain":[0.148,0.483]}},"y":{"field":"RDVI","type":"quantitative","title":null,"scale":{"domain":[0.39,0.66]}}}},
{"layer":[{"mark":"point"},{"transform":[{"regression":"RDVI","on":"B3"}],"mark":"line"}],"encoding":{"x":{"field":"B3","type":"quantitative","title":null,"scale":{"domain":[0.9786,1.0006]}},"y":{"field":"RDVI","type":"quantitative","title":null,"scale":{"domain":[0.39,0.66]}}}},
{"layer":[{"mark":"point"},{"transform":[{"loess":"RDVI","on":"B4","bandwidth":0.6}],"mark":"line"}],"encoding":{"x":{"field":"B4","type":"quantitative","title":null,"scale":{"domain":[0.694,1.122]}},"y":{"field":"RDVI","type":"quantitative","title":null,"scale":{"domain":[0.39,0.66]}}}},
{"layer":[{"mark":"point"},{"transform":[{"loess":"RDVI","on":"NDVI","bandwidth":0.6}],"mark":"line"}],"encoding":{"x":{"field":"NDVI","type":"quantitative","title":null,"scale":{"domain":[0.333,0.695]}},"y":{"field":"RDVI","type":"quantitative","title":null,"scale":{"domain":[0.39,0.66]}}}},
{"layer":[{"mark":"point"},{"transform":[{"loess":"RDVI","on":"GNDVI","bandwidth":0.6}],"mark":"line"}],"encoding":{"x":{"field":"GNDVI","type":"quantitative","title":null,"scale":{"domain":[0.075,0.268]}},"y":{"field":"RDVI","type":"quantitative","title":null,"scale":{"domain":[0.39,0.66]}}}},
{"layer":[{"mark":"point"},{"transform":[{"loess":"RDVI","on":"NDRE","bandwidth":0.6}],"mark":"line"}],"encoding":{"x":{"field":"NDRE","type":"quantitative","title":null,"scale":{"domain":[-0.119,0.0145]}},"y":{"field":"RDVI","type":"quantitative","title":null,"scale":{"domain":[0.39,0.66]}}}},
{"view":{"stroke":"#a8a8a8"},"layer":[{"mark":"bar","encoding":{"x":{"field":"RDVI","type":"quantitative","title":null,"bin":{"extent":[0.405,0.65],"step":0.035,"nice":false},"scale":{"domain":[0.332,0.737]}},"y":{"aggregate":"count","type":"quantitative","title":null,"scale":{"domain":[0,12]}}}},{"transform":[{"density":"RDVI","bandwidth":0.025,"extent":[0.332,0.737]}],"mark":{"type":"line","color":"#ff0000"},"encoding":{"x":{"field":"value","type":"quantitative","scale":{"domain":[0.332,0.737]},"axis":null},"y":{"field":"density","type":"quantitative","scale":{"domain":[0,8.36]},"axis":null}}}],"resolve":{"scale":{"x":"independent","y":"independent"}}},
{"data":{"values":[{"r":"0.19"}]},"mark":"text","encoding":{"x":{"datum":0.5,"type":"quantitative","scale":{"domain":[0,1]}},"y":{"datum":0.5,"type":"quantitative","scale":{"domain":[0,1]}},"text":{"field":"r"}}},
{"data":{"values":[{"r":"0.99"}]},"mark":"text","encoding":{"x":{"datum":0.5,"type":"quantitative","scale":{"domain":[0,1]}},"y":{"datum":0.5,"type":"quantitative","scale":{"domain":[0,1]}},"text":{"field":"r"}}},
{"width":1,"height":37,"data":{"values":[{"t":"RDVI"}]},"mark":{"type":"text","fontWeight":"normal","fontSize":19,"color":"#262626"},"encoding":{"text":{"field":"t"}}},

{"layer":[{"mark":"point"},{"transform":[{"loess":"CVI","on":"Biomass","bandwidth":0.6}],"mark":"line"}],"encoding":{"x":{"field":"Biomass","type":"quantitative","title":null,"scale":{"domain":[-4.4,29.5]}},"y":{"field":"CVI","type":"quantitative","title":null,"scale":{"domain":[0.48,0.88]},"axis":{"labels":true,"values":[0.6,0.8],"format":"~r"}}}},
{"layer":[{"mark":"point"},{"transform":[{"loess":"CVI","on":"B1","bandwidth":0.6}],"mark":"line"}],"encoding":{"x":{"field":"B1","type":"quantitative","title":null,"scale":{"domain":[0.525,0.725]}},"y":{"field":"CVI","type":"quantitative","title":null,"scale":{"domain":[0.48,0.88]}}}},
{"layer":[{"mark":"point"},{"transform":[{"loess":"CVI","on":"B2","bandwidth":0.6}],"mark":"line"}],"encoding":{"x":{"field":"B2","type":"quantitative","title":null,"scale":{"domain":[0.148,0.483]}},"y":{"field":"CVI","type":"quantitative","title":null,"scale":{"domain":[0.48,0.88]}}}},
{"layer":[{"mark":"point"},{"transform":[{"regression":"CVI","on":"B3"}],"mark":"line"}],"encoding":{"x":{"field":"B3","type":"quantitative","title":null,"scale":{"domain":[0.9786,1.0006]}},"y":{"field":"CVI","type":"quantitative","title":null,"scale":{"domain":[0.48,0.88]}}}},
{"layer":[{"mark":"point"},{"transform":[{"loess":"CVI","on":"B4","bandwidth":0.6}],"mark":"line"}],"encoding":{"x":{"field":"B4","type":"quantitative","title":null,"scale":{"domain":[0.694,1.122]}},"y":{"field":"CVI","type":"quantitative","title":null,"scale":{"domain":[0.48,0.88]}}}},
{"layer":[{"mark":"point"},{"transform":[{"loess":"CVI","on":"NDVI","bandwidth":0.6}],"mark":"line"}],"encoding":{"x":{"field":"NDVI","type":"quantitative","title":null,"scale":{"domain":[0.333,0.695]}},"y":{"field":"CVI","type":"quantitative","title":null,"scale":{"domain":[0.48,0.88]}}}},
{"layer":[{"mark":"point"},{"transform":[{"loess":"CVI","on":"GNDVI","bandwidth":0.6}],"mark":"line"}],"encoding":{"x":{"field":"GNDVI","type":"quantitative","title":null,"scale":{"domain":[0.075,0.268]}},"y":{"field":"CVI","type":"quantitative","title":null,"scale":{"domain":[0.48,0.88]}}}},
{"layer":[{"mark":"point"},{"transform":[{"loess":"CVI","on":"NDRE","bandwidth":0.6}],"mark":"line"}],"encoding":{"x":{"field":"NDRE","type":"quantitative","title":null,"scale":{"domain":[-0.119,0.0145]}},"y":{"field":"CVI","type":"quantitative","title":null,"scale":{"domain":[0.48,0.88]}}}},
{"layer":[{"mark":"point"},{"transform":[{"loess":"CVI","on":"RDVI","bandwidth":0.6}],"mark":"line"}],"encoding":{"x":{"field":"RDVI","type":"quantitative","title":null,"scale":{"domain":[0.332,0.737]}},"y":{"field":"CVI","type":"quantitative","title":null,"scale":{"domain":[0.48,0.88]}}}},
{"view":{"stroke":"#a8a8a8"},"layer":[{"mark":"bar","encoding":{"x":{"field":"CVI","type":"quantitative","title":null,"bin":{"extent":[0.457,0.955],"step":0.0711,"nice":false},"scale":{"domain":[0.392,0.985]}},"y":{"aggregate":"count","type":"quantitative","title":null,"scale":{"domain":[0,13]}}}},{"transform":[{"density":"CVI","bandwidth":0.045,"extent":[0.392,0.985]}],"mark":{"type":"line","color":"#ff0000"},"encoding":{"x":{"field":"value","type":"quantitative","scale":{"domain":[0.392,0.985]},"axis":null},"y":{"field":"density","type":"quantitative","scale":{"domain":[0,4.46]},"axis":null}}}],"resolve":{"scale":{"x":"independent","y":"independent"}}},
{"data":{"values":[{"r":"0.12"}]},"mark":"text","encoding":{"x":{"datum":0.5,"type":"quantitative","scale":{"domain":[0,1]}},"y":{"datum":0.5,"type":"quantitative","scale":{"domain":[0,1]}},"text":{"field":"r"}}},
{"width":1,"height":37,"data":{"values":[{"t":"CVI"}]},"mark":{"type":"text","fontWeight":"normal","fontSize":19,"color":"#262626"},"encoding":{"text":{"field":"t"}}},

{"layer":[{"mark":"point"},{"transform":[{"loess":"OSAVI","on":"Biomass","bandwidth":0.6}],"mark":"line"}],"encoding":{"x":{"field":"Biomass","type":"quantitative","title":null,"scale":{"domain":[-4.4,29.5]},"axis":{"labels":true,"values":[0,10,20],"format":"~r"}},"y":{"field":"OSAVI","type":"quantitative","title":null,"scale":{"domain":[0.382,0.627]},"axis":{"labels":true,"values":[0.4,0.5,0.6],"format":"~r"}}}},
{"layer":[{"mark":"point"},{"transform":[{"loess":"OSAVI","on":"B1","bandwidth":0.6}],"mark":"line"}],"encoding":{"x":{"field":"B1","type":"quantitative","title":null,"scale":{"domain":[0.525,0.725]},"axis":{"labels":true,"values":[0.6,0.7],"format":"~r"}},"y":{"field":"OSAVI","type":"quantitative","title":null,"scale":{"domain":[0.382,0.627]}}}},
{"layer":[{"mark":"point"},{"transform":[{"loess":"OSAVI","on":"B2","bandwidth":0.6}],"mark":"line"}],"encoding":{"x":{"field":"B2","type":"quantitative","title":null,"scale":{"domain":[0.148,0.483]},"axis":{"labels":true,"values":[0.2,0.4],"format":"~r"}},"y":{"field":"OSAVI","type":"quantitative","title":null,"scale":{"domain":[0.382,0.627]}}}},
{"layer":[{"mark":"point"},{"transform":[{"regression":"OSAVI","on":"B3"}],"mark":"line"}],"encoding":{"x":{"field":"B3","type":"quantitative","title":null,"scale":{"domain":[0.9786,1.0006]},"axis":{"labels":true,"values":[0.98,1],"format":"~r"}},"y":{"field":"OSAVI","type":"quantitative","title":null,"scale":{"domain":[0.382,0.627]}}}},
{"layer":[{"mark":"point"},{"transform":[{"loess":"OSAVI","on":"B4","bandwidth":0.6}],"mark":"line"}],"encoding":{"x":{"field":"B4","type":"quantitative","title":null,"scale":{"domain":[0.694,1.122]},"axis":{"labels":true,"values":[0.8,1],"format":"~r"}},"y":{"field":"OSAVI","type":"quantitative","title":null,"scale":{"domain":[0.382,0.627]}}}},
{"layer":[{"mark":"point"},{"transform":[{"loess":"OSAVI","on":"NDVI","bandwidth":0.6}],"mark":"line"}],"encoding":{"x":{"field":"NDVI","type":"quantitative","title":null,"scale":{"domain":[0.333,0.695]},"axis":{"labels":true,"values":[0.4,0.6],"format":"~r"}},"y":{"field":"OSAVI","type":"quantitative","title":null,"scale":{"domain":[0.382,0.627]}}}},
{"layer":[{"mark":"point"},{"transform":[{"loess":"OSAVI","on":"GNDVI","bandwidth":0.6}],"mark":"line"}],"encoding":{"x":{"field":"GNDVI","type":"quantitative","title":null,"scale":{"domain":[0.075,0.268]},"axis":{"labels":true,"values":[0.1,0.2],"format":"~r"}},"y":{"field":"OSAVI","type":"quantitative","title":null,"scale":{"domain":[0.382,0.627]}}}},
{"layer":[{"mark":"point"},{"transform":[{"loess":"OSAVI","on":"NDRE","bandwidth":0.6}],"mark":"line"}],"encoding":{"x":{"field":"NDRE","type":"quantitative","title":null,"scale":{"domain":[-0.119,0.0145]},"axis":{"labels":true,"values":[-0.1,0],"format":"~r"}},"y":{"field":"OSAVI","type":"quantitative","title":null,"scale":{"domain":[0.382,0.627]}}}},
{"layer":[{"mark":"point"},{"transform":[{"loess":"OSAVI","on":"RDVI","bandwidth":0.6}],"mark":"line"}],"encoding":{"x":{"field":"RDVI","type":"quantitative","title":null,"scale":{"domain":[0.332,0.737]},"axis":{"labels":true,"values":[0.4,0.6],"format":"~r"}},"y":{"field":"OSAVI","type":"quantitative","title":null,"scale":{"domain":[0.382,0.627]}}}},
{"layer":[{"mark":"point"},{"transform":[{"loess":"OSAVI","on":"CVI","bandwidth":0.6}],"mark":"line"}],"encoding":{"x":{"field":"CVI","type":"quantitative","title":null,"scale":{"domain":[0.392,0.985]},"axis":{"labels":true,"values":[0.4,0.8],"format":"~r"}},"y":{"field":"OSAVI","type":"quantitative","title":null,"scale":{"domain":[0.382,0.627]}}}},
{"view":{"stroke":"#a8a8a8"},"layer":[{"mark":"bar","encoding":{"x":{"field":"OSAVI","type":"quantitative","title":null,"bin":{"extent":[0.4,0.61],"step":0.035,"nice":false},"scale":{"domain":[0.291,0.737]},"axis":{"labels":true,"values":[0.4,0.6],"format":"~r"}},"y":{"aggregate":"count","type":"quantitative","title":null,"scale":{"domain":[0,12]}}}},{"transform":[{"density":"OSAVI","bandwidth":0.025,"extent":[0.291,0.737]}],"mark":{"type":"line","color":"#ff0000"},"encoding":{"x":{"field":"value","type":"quantitative","scale":{"domain":[0.291,0.737]},"axis":null},"y":{"field":"density","type":"quantitative","scale":{"domain":[0,8.36]},"axis":null}}}],"resolve":{"scale":{"x":"independent","y":"independent"}}}
],
"config": {
"font": "Liberation Sans",
"view": {"stroke": null, "continuousWidth": 77, "continuousHeight": 37},
"axis": {"grid": false, "labels": false, "ticks": false, "domainColor": "#a8a8a8", "domainWidth": 1, "labelFontSize": 19, "labelColor": "#262626", "labelOverlap": false, "labelFlush": false, "labelPadding": 6},
"axisX": {"labelPadding": 10},
"point": {"filled": true, "size": 10, "color": "#0000ff", "opacity": 1, "shape": "circle"},
"line": {"color": "#000000", "strokeWidth": 1.3},
"bar": {"color": "#0072bd", "stroke": "#1a1a1a", "strokeWidth": 0.5},
"text": {"fontSize": 21, "fontWeight": "bold", "color": "#000000"},
"title": {"fontSize": 19, "fontWeight": "normal", "color": "#262626", "anchor": "middle", "offset": 6},
"locale": {"number": {"decimal": ".", "thousands": ",", "grouping": [3], "currency": ["$", ""], "minus": "-"}}
}
}
